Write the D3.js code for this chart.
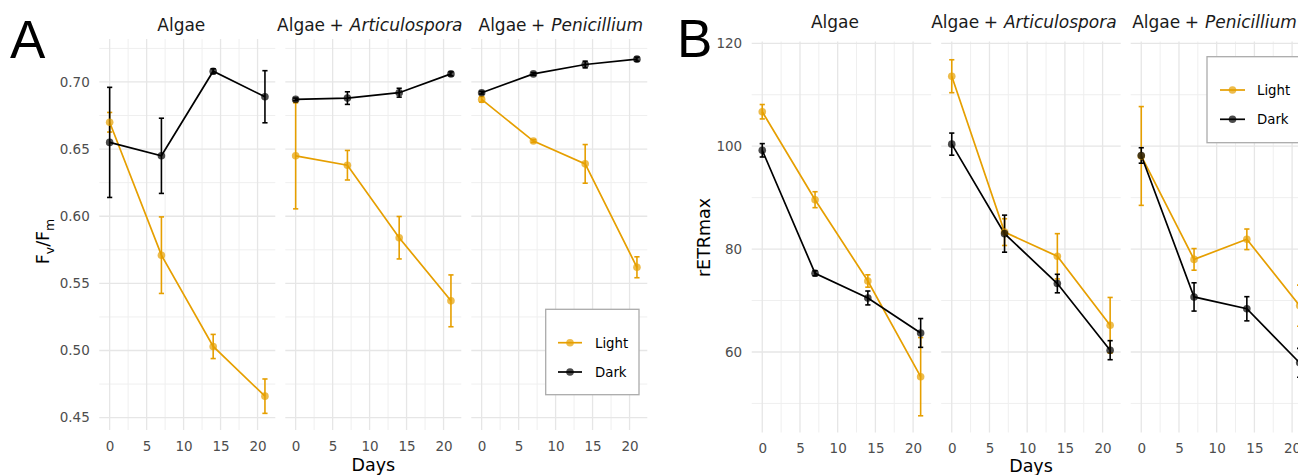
<!DOCTYPE html>
<html><head><meta charset="utf-8">
<script src="https://cdn.jsdelivr.net/npm/d3@7"></script>
<style>body{margin:0;background:#fff}svg{display:block;font-family:"DejaVu Sans",sans-serif}</style>
</head><body><svg id="chart" width="1298" height="475"></svg>
<script>
// ---------- data ----------
const days = [0, 7, 14, 21];
const facetBase = ["Algae", "Algae", "Algae"];
const facetGenus = ["", "Articulospora", "Penicillium"];
const seriesNames = ["Light", "Dark"];
const seriesColors = ["#E69F00", "#000000"];

const dayTicks = [0, 5, 10, 15, 20];
const dayMinor = [2.5, 7.5, 12.5, 17.5];
const fvfmTicks = [0.45, 0.50, 0.55, 0.60, 0.65, 0.70];
const fvfmTickLabels = ["0.45", "0.50", "0.55", "0.60", "0.65", "0.70"];
const fvfmMinor = [0.475, 0.525, 0.575, 0.625, 0.675, 0.725];
const retrTicks = [60, 80, 100, 120];
const retrTickLabels = ["60", "80", "100", "120"];
const retrMinor = [50, 70, 90, 110];

// Fv/Fm (panel A): one row per facet (Algae, +Articulospora, +Penicillium)
const fvfmLight   = [[0.670, 0.571, 0.503, 0.466], [0.645, 0.638, 0.584, 0.537], [0.687, 0.656, 0.639, 0.562]];
const fvfmLightSE = [[0.0073, 0.0285, 0.009, 0.0128], [0.0395, 0.011, 0.0158, 0.0193], [0.002, 0.001, 0.0144, 0.0078]];
const fvfmDark    = [[0.655, 0.645, 0.708, 0.689], [0.687, 0.688, 0.692, 0.706], [0.692, 0.706, 0.713, 0.717]];
const fvfmDarkSE  = [[0.041, 0.028, 0.0018, 0.0194], [0.001, 0.0047, 0.0033, 0.0015], [0.001, 0.001, 0.0025, 0.0015]];

// rETRmax (panel B)
const retrLight   = [[106.7, 89.6, 73.8, 55.2], [113.6, 83.3, 78.6, 65.2], [98.1, 78.0, 81.9, 69.0]];
const retrLightSE = [[1.4, 1.55, 1.2, 7.6], [3.2, 2.6, 4.4, 5.4], [9.6, 2.1, 2.0, 4.0]];
const retrDark    = [[99.2, 75.3, 70.5, 63.7], [100.4, 83.0, 73.3, 60.35], [98.2, 70.7, 68.4, 57.9]];
const retrDarkSE  = [[1.3, 0.5, 1.35, 2.8], [2.15, 3.6, 1.8, 1.85], [1.5, 2.75, 2.35, 2.8]];

// ---------- layout ----------
const svg = d3.select("#chart");
svg.append("rect").attr("width", 1298).attr("height", 475).attr("fill", "#fff");

const figA = {
  letter: "A", letterX: 10, letterY: 58,
  lefts: [99.3, 285.3, 471.3], width: 176, top: 39, bottom: 430,
  xDomain: [-1.4, 22.4], yDomain: [0.4408, 0.7320],
  yTicks: fvfmTicks, yTickLabels: fvfmTickLabels, yMinor: fvfmMinor,
  light: fvfmLight, lightSE: fvfmLightSE, dark: fvfmDark, darkSE: fvfmDarkSE,
  stripY: 30.5, stripDx: [-6, -3.5, 1.5],
  daysX: 373.3, daysY: 470.5,
  ylabX: 49, ylabY: 241.5, ylab: "fvfm",
  legend: {x: 545.7, y: 309.3, w: 93.3, h: 85.4, rows: [342.7, 372], k0: 558, k1: 582, tx: 595}
};
const figB = {
  letter: "B", letterX: 677, letterY: 57,
  lefts: [751.7, 941.2, 1130.7], width: 179.5, top: 41.5, bottom: 432.5,
  xDomain: [-1.4, 22.4], yDomain: [44.35, 120.35],
  yTicks: retrTicks, yTickLabels: retrTickLabels, yMinor: retrMinor,
  light: retrLight, lightSE: retrLightSE, dark: retrDark, darkSE: retrDarkSE,
  stripY: 27.5, stripDx: [-6.5, -7, -6],
  daysX: 1031, daysY: 471.5,
  ylabX: 710, ylabY: 237.5, ylab: "rETRmax",
  legend: {x: 1207, y: 56.7, w: 93.3, h: 86, rows: [90, 119.3], k0: 1220, k1: 1245, tx: 1257}
};

function drawFigure(f) {
  const g = svg.append("g");
  const y = d3.scaleLinear().domain(f.yDomain).range([f.bottom, f.top]);

  f.lefts.forEach((left, fi) => {
    const x = d3.scaleLinear().domain(f.xDomain).range([left, left + f.width]);
    const p = g.append("g");

    // grid
    const grid = p.append("g").attr("fill", "none");
    f.yMinor.forEach(v => grid.append("line").attr("x1", left).attr("x2", left + f.width)
      .attr("y1", y(v)).attr("y2", y(v)).attr("stroke", "#efefef").attr("stroke-width", 1));
    dayMinor.forEach(v => grid.append("line").attr("x1", x(v)).attr("x2", x(v))
      .attr("y1", f.top).attr("y2", f.bottom).attr("stroke", "#efefef").attr("stroke-width", 1));
    f.yTicks.forEach(v => grid.append("line").attr("x1", left).attr("x2", left + f.width)
      .attr("y1", y(v)).attr("y2", y(v)).attr("stroke", "#e6e6e6").attr("stroke-width", 1.3));
    dayTicks.forEach(v => grid.append("line").attr("x1", x(v)).attr("x2", x(v))
      .attr("y1", f.top).attr("y2", f.bottom).attr("stroke", "#e6e6e6").attr("stroke-width", 1.3));

    // x axis labels
    const xa = p.append("g").attr("transform", `translate(0,${f.bottom})`)
      .call(d3.axisBottom(x).tickValues(dayTicks).tickSize(0).tickPadding(11).tickFormat(d3.format("d")));
    xa.select(".domain").remove();
    xa.selectAll("text").attr("font-size", 13.5).attr("fill", "#4d4d4d").attr("font-family", "DejaVu Sans");

    // y axis labels (first facet only)
    if (fi === 0) {
      const ya = p.append("g").attr("transform", `translate(${left},0)`)
        .call(d3.axisLeft(y).tickValues(f.yTicks).tickSize(0).tickPadding(9.5)
          .tickFormat((d, i) => f.yTickLabels[i]));
      ya.select(".domain").remove();
      ya.selectAll("text").attr("font-size", 13.5).attr("fill", "#4d4d4d").attr("font-family", "DejaVu Sans");
    }

    // strip title
    const st = p.append("text").attr("x", left + f.width / 2 + f.stripDx[fi]).attr("y", f.stripY)
      .attr("text-anchor", "middle").attr("font-size", 17).attr("fill", "#1a1a1a");
    st.append("tspan").text(facetBase[fi]);
    if (facetGenus[fi]) {
      st.append("tspan").attr("dx", 4.5).text("+");
      st.append("tspan").attr("dx", 6).attr("font-style", "italic").text(facetGenus[fi]);
    }

    // data
    const series = [
      {vals: f.light[fi], se: f.lightSE[fi], color: seriesColors[0]},
      {vals: f.dark[fi], se: f.darkSE[fi], color: seriesColors[1]}
    ];
    const line = d3.line().x((d, i) => x(days[i])).y(d => y(d));
    series.forEach(s => p.append("path").attr("d", line(s.vals)).attr("fill", "none")
      .attr("stroke", s.color).attr("stroke-width", 1.7));
    series.forEach(s => {
      s.vals.forEach((v, i) => {
        const cx = x(days[i]);
        const eb = p.append("g").attr("stroke", s.color).attr("stroke-width", 1.6).attr("fill", "none");
        eb.append("line").attr("x1", cx).attr("x2", cx).attr("y1", y(v - s.se[i])).attr("y2", y(v + s.se[i]));
        eb.append("line").attr("x1", cx - 2.6).attr("x2", cx + 2.6).attr("y1", y(v - s.se[i])).attr("y2", y(v - s.se[i]));
        eb.append("line").attr("x1", cx - 2.6).attr("x2", cx + 2.6).attr("y1", y(v + s.se[i])).attr("y2", y(v + s.se[i]));
      });
    });
    series.forEach(s => s.vals.forEach((v, i) => p.append("circle").attr("cx", x(days[i])).attr("cy", y(v))
      .attr("r", 3.8).attr("fill", s.color).attr("fill-opacity", 0.7)));
  });

  // figure letter
  g.append("text").attr("x", f.letterX).attr("y", f.letterY).attr("font-size", 53)
    .attr("font-family", "Liberation Sans, Arial, sans-serif").attr("fill", "#000").text(f.letter);

  // axis titles
  g.append("text").attr("x", f.daysX).attr("y", f.daysY).attr("text-anchor", "middle")
    .attr("font-size", 17.5).attr("fill", "#000").text("Days");
  const yl = g.append("text").attr("transform", `translate(${f.ylabX},${f.ylabY}) rotate(-90)`)
    .attr("text-anchor", "middle").attr("font-size", 17.5).attr("fill", "#000");
  if (f.ylab === "fvfm") {
    yl.append("tspan").text("F");
    yl.append("tspan").attr("font-size", 12.5).attr("dy", 5).text("v");
    yl.append("tspan").attr("dy", -5).text("/F");
    yl.append("tspan").attr("font-size", 12.5).attr("dy", 5).text("m");
  } else {
    yl.text(f.ylab);
  }

  // legend
  const L = f.legend;
  const lg = g.append("g");
  lg.append("rect").attr("x", L.x).attr("y", L.y).attr("width", L.w).attr("height", L.h)
    .attr("fill", "#fff").attr("stroke", "#ababab").attr("stroke-width", 1.3);
  seriesNames.forEach((name, i) => {
    const ry = L.rows[i];
    lg.append("line").attr("x1", L.k0).attr("x2", L.k1).attr("y1", ry).attr("y2", ry)
      .attr("stroke", seriesColors[i]).attr("stroke-width", 1.7);
    lg.append("circle").attr("cx", (L.k0 + L.k1) / 2).attr("cy", ry).attr("r", 3.8)
      .attr("fill", seriesColors[i]).attr("fill-opacity", 0.7);
    lg.append("text").attr("x", L.tx).attr("y", ry + 4.8).attr("font-size", 13.3).attr("fill", "#000").text(name);
  });
}

drawFigure(figA);
drawFigure(figB);
</script></body></html>
